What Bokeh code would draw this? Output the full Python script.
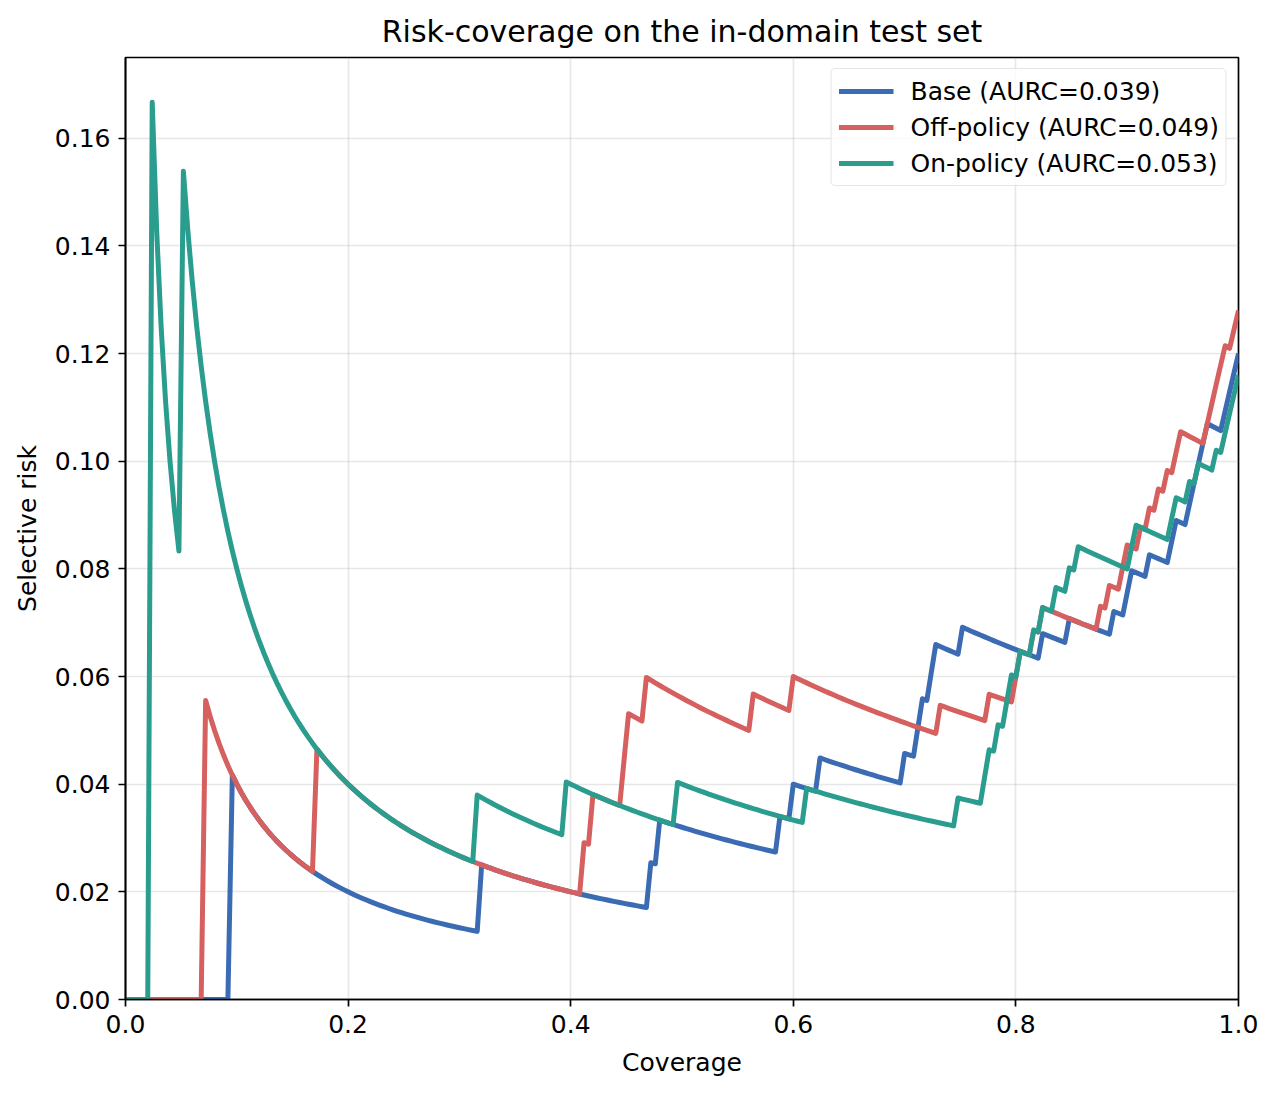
import numpy as np
from bokeh.plotting import figure
from bokeh.models import Range1d, FixedTicker, PrintfTickFormatter, ColumnDataSource
from bokeh.embed import file_html
from bokeh.resources import INLINE

# ---- data: test-set size and the confidence ranks (1 = most confident) of misclassified examples
N_SAMPLES = 250
base_error_ranks = [24, 80, 118, 120, 147, 150, 156, 175, 178, 179, 181, 182, 188, 206, 212,
                    222, 225, 226, 230, 235, 236, 239, 240, 241, 242, 243, 247, 248, 249, 250]
off_policy_error_ranks = [18, 43, 103, 105, 112, 113, 117, 141, 150, 183, 194, 200, 201, 204, 206,
                          219, 221, 224, 225, 228, 230, 232, 234, 236, 237, 243, 244, 245, 246, 247,
                          249, 250]
on_policy_error_ranks = [6, 13, 79, 99, 124, 153, 187, 193, 194, 196, 198, 199, 201, 204, 206,
                         209, 212, 214, 226, 227, 235, 236, 239, 241, 245, 247, 248, 249, 250]

series_names = ["Base", "Off-policy", "On-policy"]
aurc_values = [0.039, 0.049, 0.053]
series_colors = ["#3A6BB3", "#D65F5F", "#2A9D8F"]
x_ticks = [0.0, 0.2, 0.4, 0.6, 0.8, 1.0]
y_ticks = [0.00, 0.02, 0.04, 0.06, 0.08, 0.10, 0.12, 0.14, 0.16]


def risk_coverage(error_ranks, n):
    wrong = np.zeros(n + 1)
    wrong[np.array(error_ranks)] = 1.0
    cum = np.cumsum(wrong)
    k = np.arange(n + 1)
    coverage = k / n
    risk = np.where(k > 0, cum / np.maximum(k, 1), 0.0)
    return coverage, risk


FONT = "DejaVu Sans"

p = figure(frame_width=1113, frame_height=942,
           x_range=Range1d(0, 1), y_range=Range1d(0, 0.175),
           output_backend="svg", toolbar_location=None,
           min_border_left=125, min_border_right=31, min_border_top=57, min_border_bottom=86,
           title="Risk-coverage on the in-domain test set")
p.background_fill_color = "white"
p.border_fill_color = "white"
p.outline_line_color = "black"
p.outline_line_width = 1.7

p.title.text_font = FONT
p.title.text_font_size = "30px"
p.title.text_font_style = "normal"
p.title.text_color = "black"
p.title.align = "center"
p.title.standoff = 17

for ax in (p.xaxis[0], p.yaxis[0]):
    ax.major_label_text_font = FONT
    ax.major_label_text_font_size = "25px"
    ax.major_label_text_color = "black"
    ax.axis_label_text_font = FONT
    ax.axis_label_text_font_size = "25px"
    ax.axis_label_text_font_style = "normal"
    ax.axis_label_text_color = "black"
    ax.major_tick_in = 0
    ax.major_tick_out = 7
    ax.major_tick_line_width = 1.7
    ax.minor_tick_line_color = None
    ax.axis_line_width = 1.7
    ax.major_label_standoff = 8

p.xaxis.ticker = FixedTicker(ticks=x_ticks)
p.xaxis.formatter = PrintfTickFormatter(format="%.1f")
p.yaxis.ticker = FixedTicker(ticks=y_ticks)
p.yaxis.formatter = PrintfTickFormatter(format="%.2f")
p.xaxis.axis_label = "Coverage"
p.yaxis.axis_label = "Selective risk"
p.xaxis.axis_label_standoff = 12
p.yaxis.axis_label_standoff = 10

p.grid.grid_line_color = "#b0b0b0"
p.grid.grid_line_alpha = 0.3
p.grid.grid_line_width = 1.6

for name, aurc, color, ranks in zip(series_names, aurc_values, series_colors,
                                    [base_error_ranks, off_policy_error_ranks, on_policy_error_ranks]):
    cov, risk = risk_coverage(ranks, N_SAMPLES)
    src = ColumnDataSource(dict(x=cov, y=risk))
    p.line("x", "y", source=src, line_color=color, line_width=5, line_join="round",
           legend_label=f"{name} (AURC={aurc:.3f})")

lg = p.legend[0]
lg.location = "top_right"
lg.label_text_font = FONT
lg.label_text_font_size = "25px"
lg.label_text_color = "black"
lg.glyph_width = 55
lg.glyph_height = 30
lg.label_height = 30
lg.label_standoff = 17
lg.padding = 7
lg.spacing = 6
lg.margin = 11
lg.border_line_color = "#cccccc"
lg.border_line_width = 1.7
lg.background_fill_alpha = 0.8
if "border_radius" in lg.properties():
    lg.border_radius = 5

open("out.html", "w").write(file_html(p, INLINE))
